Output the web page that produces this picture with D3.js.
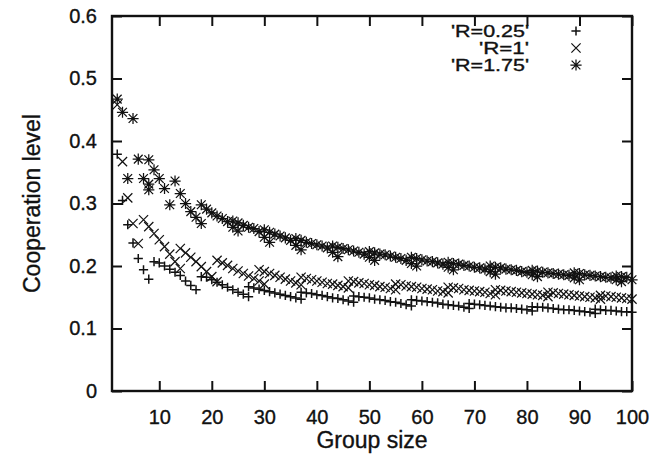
<!DOCTYPE html>
<html>
<head>
<meta charset="utf-8">
<script src="https://cdn.jsdelivr.net/npm/d3@7"></script>
<style>
  html, body { margin: 0; padding: 0; background: #fff; }
  svg { display: block; }
  text { font-family: "Liberation Sans", Arial, Helvetica, sans-serif; fill: #111; stroke: #111; stroke-width: 0.35px; }
</style>
</head>
<body>
<svg id="chart" width="667" height="457"></svg>
<script>
// ---- data (group size, cooperation level) ----
const seriesNames = ["'R=0.25'", "'R=1'", "'R=1.75'"];
const xTicks = [10, 20, 30, 40, 50, 60, 70, 80, 90, 100];
const yTicks = [0, 0.1, 0.2, 0.3, 0.4, 0.5, 0.6];

const r025 = [
  [2,.379],[3,.305],[4,.266],[5,.237],[6,.212],[7,.194],[8,.179],
  [9,.207],[10,.205],[11,.200],[12,.195],[13,.190],[14,.185],[15,.176],[16,.169],[17,.162],
  [18,.183],[19,.182],[20,.178],[21,.174],[22,.170],[23,.166],[24,.162],[25,.158],[26,.155],[27,.151],
  [27,.167],[28,.165],[29,.163],[30,.161],[31,.159],[32,.157],[33,.155],[34,.153],[35,.151],[36,.149],[37,.147],
  [37,.158],[38,.157],[39,.156],[40,.154],[41,.153],[42,.151],[43,.149],[44,.148],[45,.146],[46,.144],[47,.142],
  [47,.152],[48,.151],[49,.150],[50,.149],[51,.147],[52,.146],[53,.145],[54,.143],[55,.142],[56,.140],[57,.138],[58,.136],
  [58,.146],[59,.145],[60,.144],[61,.143],[62,.142],[63,.141],[64,.139],[65,.138],[66,.137],[67,.136],[68,.134],[69,.132],
  [69,.140],[70,.139],[71,.138],[72,.137],[73,.136],[74,.135],[75,.134],[76,.133],[77,.133],[78,.132],[79,.131],[80,.130],[81,.128],
  [81,.135],[82,.134],[83,.134],[84,.133],[85,.132],[86,.131],[87,.130],[88,.130],[89,.129],[90,.128],[91,.127],[92,.126],[93,.124],
  [93,.131],[94,.130],[95,.129],[96,.129],[97,.128],[98,.127],[99,.127],[100,.126]
];

const r1 = [
  [2,.458],[3,.367],[4,.309],[5,.268],[6,.236],
  [7,.274],[8,.263],[9,.252],[10,.242],[11,.231],[12,.219],[13,.207],[14,.196],
  [14,.228],[15,.221],[16,.214],[17,.207],[18,.199],[19,.191],[20,.183],[21,.175],
  [21,.209],[22,.205],[23,.201],[24,.196],[25,.192],[26,.188],[27,.184],[28,.180],[29,.176],[30,.171],
  [29,.194],[30,.191],[31,.188],[32,.185],[33,.182],[34,.179],[35,.176],[36,.173],[37,.170],
  [37,.182],[38,.180],[39,.178],[40,.176],[41,.174],[42,.172],[43,.171],[44,.169],[45,.167],[46,.165],
  [46,.176],[47,.175],[48,.173],[49,.172],[50,.170],[51,.169],[52,.167],[53,.166],[54,.164],[55,.162],
  [55,.171],[56,.170],[57,.168],[58,.167],[59,.166],[60,.164],[61,.163],[62,.162],[63,.160],[64,.159],[65,.157],
  [65,.166],[66,.165],[67,.164],[68,.162],[69,.161],[70,.160],[71,.159],[72,.158],[73,.156],[74,.154],
  [74,.162],[75,.161],[76,.160],[77,.159],[78,.158],[79,.157],[80,.156],[81,.155],[82,.154],[83,.153],[84,.151],
  [84,.158],[85,.157],[86,.156],[87,.155],[88,.154],[89,.153],[90,.152],[91,.151],[92,.150],[93,.149],[94,.147],
  [94,.153],[95,.152],[96,.151],[97,.150],[98,.149],[99,.148],[100,.147]
];

const r175 = [
  [2,.467],[3,.446],[4,.340],[5,.436],[6,.371],[7,.340],[8,.370],[8,.331],[8,.322],
  [9,.354],[10,.340],[11,.324],[12,.298],[13,.336],[14,.316],[15,.300],[16,.287],[17,.278],[18,.268],
  [18,.298],[19,.291],[20,.285],[21,.280],[22,.276],[23,.271],[24,.262],[25,.256],
  [24,.272],[25,.269],[26,.265],[27,.262],[28,.260],[29,.255],[30,.246],[31,.238],
  [30,.258],[31,.254],[32,.251],[33,.248],[34,.245],[35,.241],[36,.233],[37,.226],
  [36,.244],[37,.241],[38,.238],[39,.236],[40,.234],[41,.232],[42,.229],[43,.222],[44,.215],
  [43,.232],[44,.230],[45,.228],[46,.226],[47,.224],[48,.222],[49,.219],[50,.214],[51,.209],
  [50,.223],[51,.221],[52,.219],[53,.218],[54,.216],[55,.214],[56,.212],[57,.209],[58,.204],[59,.200],
  [58,.214],[59,.212],[60,.210],[61,.208],[62,.207],[63,.205],[64,.203],[65,.198],[66,.194],
  [65,.206],[66,.204],[67,.203],[68,.201],[69,.200],[70,.198],[71,.197],[72,.195],[73,.191],[74,.187],
  [73,.200],[74,.198],[75,.197],[76,.195],[77,.194],[78,.193],[79,.191],[80,.190],[81,.186],[82,.183],
  [81,.193],[82,.192],[83,.190],[84,.189],[85,.188],[86,.187],[87,.186],[88,.185],[89,.181],[90,.178],
  [89,.189],[90,.188],[91,.186],[92,.185],[93,.184],[94,.183],[95,.182],[96,.181],[97,.178],[98,.175],
  [97,.184],[98,.183],[99,.182],[100,.178]
];

// ---- layout ----
const svg = d3.select("#chart");
const L = 112, R = 632, T = 16, B = 391;
const x = d3.scaleLinear().domain([1, 100]).range([L, R]);
const y = d3.scaleLinear().domain([0, 0.6]).range([B, T]);

const symPlus  = s => `M${-s},0H${s}M0,${-s}V${s}`;
const symCross = s => `M${-s},${-s}L${s},${s}M${-s},${s}L${s},${-s}`;
const symStar  = s => symPlus(s) + symCross(s * 0.78);

const series = [
  { name: seriesNames[0], data: r025, path: symPlus(4.6),  sw: 1.5 },
  { name: seriesNames[1], data: r1,   path: symCross(4.6), sw: 1.2 },
  { name: seriesNames[2], data: r175, path: symStar(5.6),  sw: 1.25 }
];

const ink = "#111";
const fontSize = 20;

// axes (gnuplot-style mirrored inward ticks)
const tickLen = 10;
const axB = svg.append("g").attr("transform", `translate(0,${B})`)
  .call(d3.axisBottom(x).tickValues(xTicks).tickSizeInner(-tickLen).tickSizeOuter(0).tickPadding(tickLen + 9));
const axT = svg.append("g").attr("transform", `translate(0,${T})`)
  .call(d3.axisTop(x).tickValues(xTicks).tickSizeInner(-tickLen).tickSizeOuter(0).tickFormat(""));
const axL = svg.append("g").attr("transform", `translate(${L},0)`)
  .call(d3.axisLeft(y).tickValues(yTicks).tickSizeInner(-tickLen).tickSizeOuter(0).tickPadding(tickLen + 5)
    .tickFormat(d => d === 0 ? "0" : d3.format(".1f")(d)));
const axR = svg.append("g").attr("transform", `translate(${R},0)`)
  .call(d3.axisRight(y).tickValues(yTicks).tickSizeInner(-tickLen).tickSizeOuter(0).tickFormat(""));

[axB, axT, axL, axR].forEach(g => {
  g.select(".domain").remove();
  g.selectAll(".tick line").attr("stroke", ink).attr("stroke-width", 2);
  g.selectAll(".tick text").attr("font-size", fontSize).attr("fill", ink)
    .attr("font-family", "'Liberation Sans', Arial, sans-serif");
});

// frame
svg.append("rect").attr("x", L).attr("y", T).attr("width", R - L).attr("height", B - T)
  .attr("fill", "none").attr("stroke", ink).attr("stroke-width", 2.4);

// points
series.forEach(s => {
  svg.append("g").selectAll("path").data(s.data).join("path")
    .attr("transform", d => `translate(${x(d[0])},${y(d[1])})`)
    .attr("d", s.path)
    .attr("fill", "none").attr("stroke", ink).attr("stroke-width", s.sw);
});

// legend
const legY = [31, 48, 65];
const legWidth = [78, 50, 78];
series.forEach((s, i) => {
  svg.append("text").attr("x", 529).attr("y", legY[i]).attr("dy", "0.36em")
    .attr("text-anchor", "end").attr("font-size", 16)
    .attr("textLength", legWidth[i]).attr("lengthAdjust", "spacingAndGlyphs")
    .text(s.name);
  svg.append("path").attr("transform", `translate(576,${legY[i]})`)
    .attr("d", s.path).attr("fill", "none").attr("stroke", ink).attr("stroke-width", s.sw);
});

// axis titles
svg.append("text").attr("x", (L + R) / 2).attr("y", 448).attr("text-anchor", "middle")
  .attr("font-size", 23).text("Group size");
svg.append("text").attr("transform", `translate(40,${(T + B) / 2}) rotate(-90)`)
  .attr("text-anchor", "middle").attr("font-size", 23).text("Cooperation level");
</script>
</body>
</html>
